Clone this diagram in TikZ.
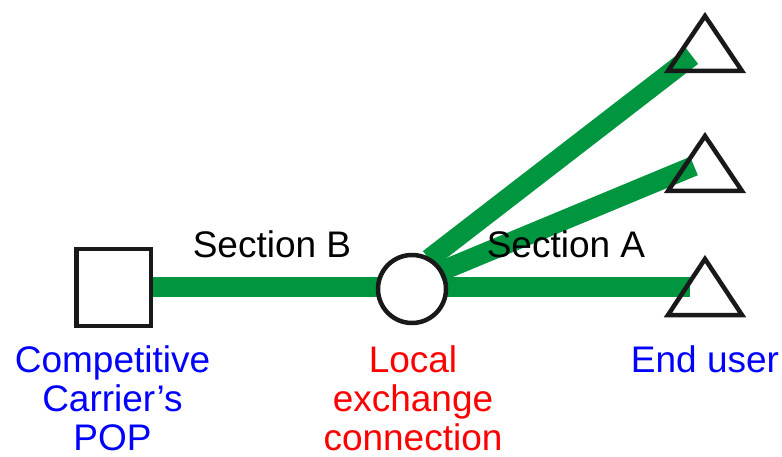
\documentclass[tikz,border=0pt]{standalone}
\usepackage{fontspec}
\setmainfont{Liberation Sans}
\definecolor{cable}{RGB}{0,150,64}
\begin{document}
\begin{tikzpicture}[x=1pt,y=1pt,
  cableline/.style={draw=cable,line width=20pt},
  outline/.style={draw=black!90,line width=4.5pt,line join=miter},
  lbl/.style={font=\fontsize{37}{39}\selectfont,inner sep=0pt,anchor=base,align=center}]
\useasboundingbox (0,0) rectangle (782,-457);
% named points
\coordinate (sq) at (113.5,-287.5);
\coordinate (ex) at (412,-289);
\coordinate (sqE) at (151,-287);
\coordinate (hA) at (690,-287);
\coordinate (d1s) at (429,-259);
\coordinate (d1e) at (692,-56);
\coordinate (d2s) at (439,-272);
\coordinate (d2e) at (694,-166);
% Section B and A cables
\draw[cableline,line cap=butt] (sqE) -- (hA);
\fill[white] (ex) circle (34);
\draw[cableline] (d1s) -- (d1e);
\draw[cableline] (d2s) -- (d2e);
% local exchange
\draw[outline] (ex) circle (34);
% POP square
\draw[outline] (76.25,-249.25) rectangle (150.75,-325.75);
% end user triangles
\draw[outline] (705,-16) -- (742,-71) -- (668,-71) -- cycle;
\draw[outline] (705,-136) -- (742,-191) -- (668,-191) -- cycle;
\draw[outline] (705,-259) -- (742,-315) -- (668,-315) -- cycle;
% labels
\node[lbl] (secB) at (272,-258) {Section B};
\node[lbl] (secA) at (566,-258) {Section A};
\node[lbl,text=blue] (pop) at (112.5,-450) {Competitive\\Carrier’s\\POP};
\node[lbl,text=red] (lec) at (413,-450) {Local\\exchange\\connection};
\node[lbl,text=blue] (eu) at (705,-372) {End user};
\end{tikzpicture}
\end{document}
